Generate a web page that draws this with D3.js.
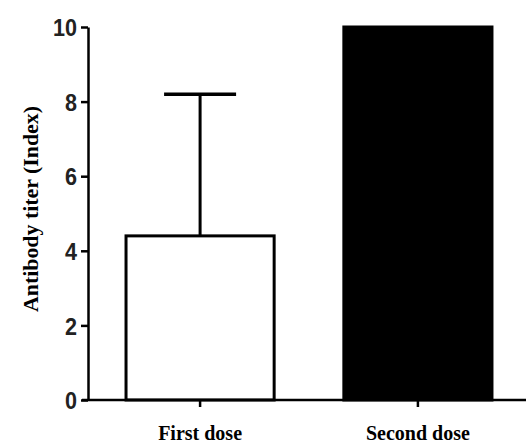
<!DOCTYPE html>
<html>
<head>
<meta charset="utf-8">
<script src="https://cdn.jsdelivr.net/npm/d3@7"></script>
<style>
  body { margin: 0; background: #fff; }
</style>
</head>
<body>
<div id="chart"></div>
<script>
const categories = ["First dose", "Second dose"];
const means = [4.4, 10];
const errUpper = [8.2, null];
const fills = ["#ffffff", "#000000"];
const yTicks = [0, 2, 4, 6, 8, 10];

const width = 526, height = 444;
const svg = d3.select("#chart").append("svg")
  .attr("width", width).attr("height", height);

const yScale = d3.scaleLinear().domain([0, 10]).range([400, 27]);
const xScale = d3.scaleBand().domain(categories)
  .range([89, 529]).paddingInner(0.32).paddingOuter(0.17);

// bars
svg.selectAll("rect.bar").data(categories).join("rect")
  .attr("class", "bar")
  .attr("x", d => xScale(d))
  .attr("y", (d, i) => yScale(means[i]))
  .attr("width", xScale.bandwidth())
  .attr("height", (d, i) => yScale(0) - yScale(means[i]))
  .attr("fill", (d, i) => fills[i])
  .attr("stroke", "#000")
  .attr("stroke-width", 3);

// error bars (upper only)
categories.forEach((c, i) => {
  if (errUpper[i] == null) return;
  const cx = xScale(c) + xScale.bandwidth() / 2;
  svg.append("line")
    .attr("x1", cx).attr("x2", cx)
    .attr("y1", yScale(means[i])).attr("y2", yScale(errUpper[i]))
    .attr("stroke", "#000").attr("stroke-width", 3);
  svg.append("line")
    .attr("x1", cx - 36).attr("x2", cx + 36)
    .attr("y1", yScale(errUpper[i])).attr("y2", yScale(errUpper[i]))
    .attr("stroke", "#000").attr("stroke-width", 3.5);
});

// y axis
const yAxis = svg.append("g")
  .attr("transform", "translate(88,0)")
  .call(d3.axisLeft(yScale).tickValues(yTicks).tickSize(7).tickSizeOuter(0).tickPadding(4));
yAxis.select(".domain").attr("stroke-width", 2.5);
yAxis.selectAll(".tick line").attr("stroke-width", 2.5);
yAxis.selectAll(".tick text")
  .attr("font-family", "'Liberation Sans', Arial, sans-serif")
  .attr("font-weight", "bold")
  .attr("font-size", 24)
  .attr("fill", "#222")
  .attr("dy", "0.36em")
  .attr("textLength", d => String(d).length * 12)
  .attr("lengthAdjust", "spacingAndGlyphs");

// x axis
const xAxis = svg.append("g")
  .attr("transform", "translate(0,400)")
  .call(d3.axisBottom(xScale).tickSize(7).tickSizeOuter(0).tickPadding(19));
xAxis.select(".domain").attr("d", "M82,0H526").attr("stroke-width", 2.5);
xAxis.selectAll(".tick line").attr("stroke-width", 2.5);
xAxis.selectAll(".tick text")
  .attr("font-family", "'Liberation Serif', 'Times New Roman', serif")
  .attr("font-weight", "bold")
  .attr("font-size", 20)
  .attr("fill", "#000");

// y title
svg.append("text")
  .attr("transform", "translate(38,209) rotate(-90)")
  .attr("text-anchor", "middle")
  .attr("font-family", "'Liberation Serif', 'Times New Roman', serif")
  .attr("font-weight", "bold")
  .attr("font-size", 20)
  .attr("textLength", 206)
  .attr("lengthAdjust", "spacingAndGlyphs")
  .text("Antibody titer (Index)");
</script>
</body>
</html>
